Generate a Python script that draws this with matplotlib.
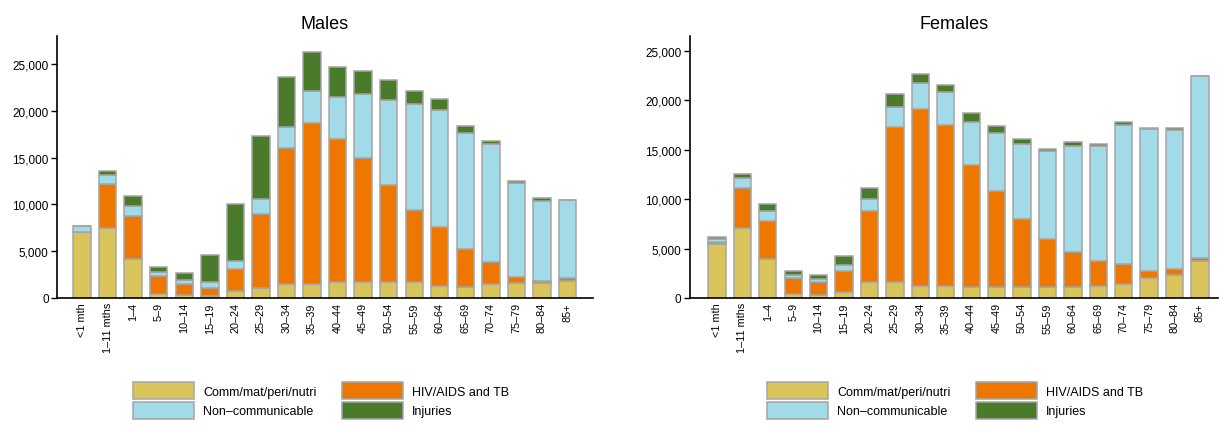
import numpy as np
import matplotlib.pyplot as plt
from matplotlib.ticker import FuncFormatter

plt.rcParams['font.family'] = ['Liberation Sans', 'DejaVu Sans']

ages = ["<1 mth", "1\u201311 mths", "1\u20134", "5\u20139", "10\u201314", "15\u201319", "20\u201324",
        "25\u201329", "30\u201334", "35\u201339", "40\u201344", "45\u201349", "50\u201354", "55\u201359",
        "60\u201364", "65\u201369", "70\u201374", "75\u201379", "80\u201384", "85+"]

# deaths by cause group, males
male_comm = [7000, 7450, 4150, 450, 300, 250, 700, 1100, 1500, 1500,
             1750, 1750, 1750, 1750, 1300, 1150, 1500, 1550, 1600, 1800]
male_hiv = [0, 4700, 4650, 1850, 1150, 800, 2400, 7900, 14500, 17250,
            15250, 13200, 10300, 7650, 6300, 4100, 2300, 700, 250, 300]
male_nc = [650, 1000, 1000, 450, 450, 700, 800, 1550, 2300, 3400,
           4500, 6850, 9100, 11350, 12500, 12400, 12650, 10000, 8550, 8350]
male_inj = [0, 450, 1050, 550, 750, 2850, 6100, 6750, 5350, 4150,
            3200, 2500, 2200, 1400, 1200, 700, 300, 300, 250, 0]

# deaths by cause group, females
female_comm = [5450, 7050, 3950, 450, 350, 650, 1600, 1600, 1250, 1250,
               1100, 1100, 1100, 1100, 1100, 1250, 1400, 2000, 2300, 3700]
female_hiv = [200, 4100, 3800, 1550, 1250, 2050, 7150, 15650, 17900, 16200,
              12400, 9700, 6900, 4850, 3550, 2450, 2050, 700, 600, 350]
female_nc = [300, 1000, 1000, 350, 350, 600, 1300, 2050, 2600, 3400,
             4300, 5900, 7550, 8900, 10750, 11650, 14000, 14350, 14050, 18400]
female_inj = [200, 350, 750, 350, 400, 900, 1100, 1350, 950, 700,
              900, 700, 550, 250, 350, 200, 400, 100, 250, 0]

causes = ["Comm/mat/peri/nutri", "HIV/AIDS and TB", "Non\u2013communicable", "Injuries"]
colors = ["#d9c45c", "#ee7700", "#a3dae8", "#4a7b2b"]

fig = plt.figure(figsize=(12.19, 4.27), dpi=100)
ax_m = fig.add_axes([0.0468, 0.2998, 0.4397, 0.6135])
ax_f = fig.add_axes([0.566, 0.2998, 0.433, 0.6135])

x = np.arange(len(ages))


def draw_panel(ax, series, title, ymax, xlim):
    bottom = np.zeros(len(ages))
    for vals, col, lab in zip(series, colors, causes):
        vals = np.array(vals, dtype=float)
        ax.bar(x, vals, 0.68, bottom=bottom, color=col, edgecolor="#a5a5a5",
               linewidth=1.1, label=lab)
        bottom += vals
    ax.set_title(title, fontsize=13, pad=6)
    ax.set_ylim(0, ymax)
    ax.set_xlim(*xlim)
    ax.set_yticks(range(0, 25001, 5000))
    ax.yaxis.set_major_formatter(FuncFormatter(lambda v, p: f"{int(v):,}"))
    ax.set_xticks(x)
    ax.set_xticklabels(ages, rotation=90, fontsize=7.8)
    ax.tick_params(axis="x", length=0, pad=3)
    ax.tick_params(axis="y", length=4, width=1, labelsize=8.5, pad=2)
    for s in ["top", "right"]:
        ax.spines[s].set_visible(False)
    for s in ["left", "bottom"]:
        ax.spines[s].set_linewidth(1.2)


draw_panel(ax_m, [male_comm, male_hiv, male_nc, male_inj], "Males", 28000, (-0.98, 20.0))
draw_panel(ax_f, [female_comm, female_hiv, female_nc, female_inj], "Females", 26500, (-1.06, 19.7))

# legend order: row 1 = comm, hiv ; row 2 = non-comm, injuries
for ax, x0 in [(ax_m, 0.142), (ax_f, 0.146)]:
    h, l = ax.get_legend_handles_labels()
    order = [0, 2, 1, 3]
    ax.legend([h[i] for i in order], [l[i] for i in order], ncol=2,
              loc="upper left", bbox_to_anchor=(x0, -0.32), frameon=False,
              fontsize=9, handlelength=4.9, handleheight=1.75,
              handletextpad=0.72, labelspacing=0.2, columnspacing=2.0,
              borderpad=0, borderaxespad=0)

fig.savefig("out.png", dpi=100)
